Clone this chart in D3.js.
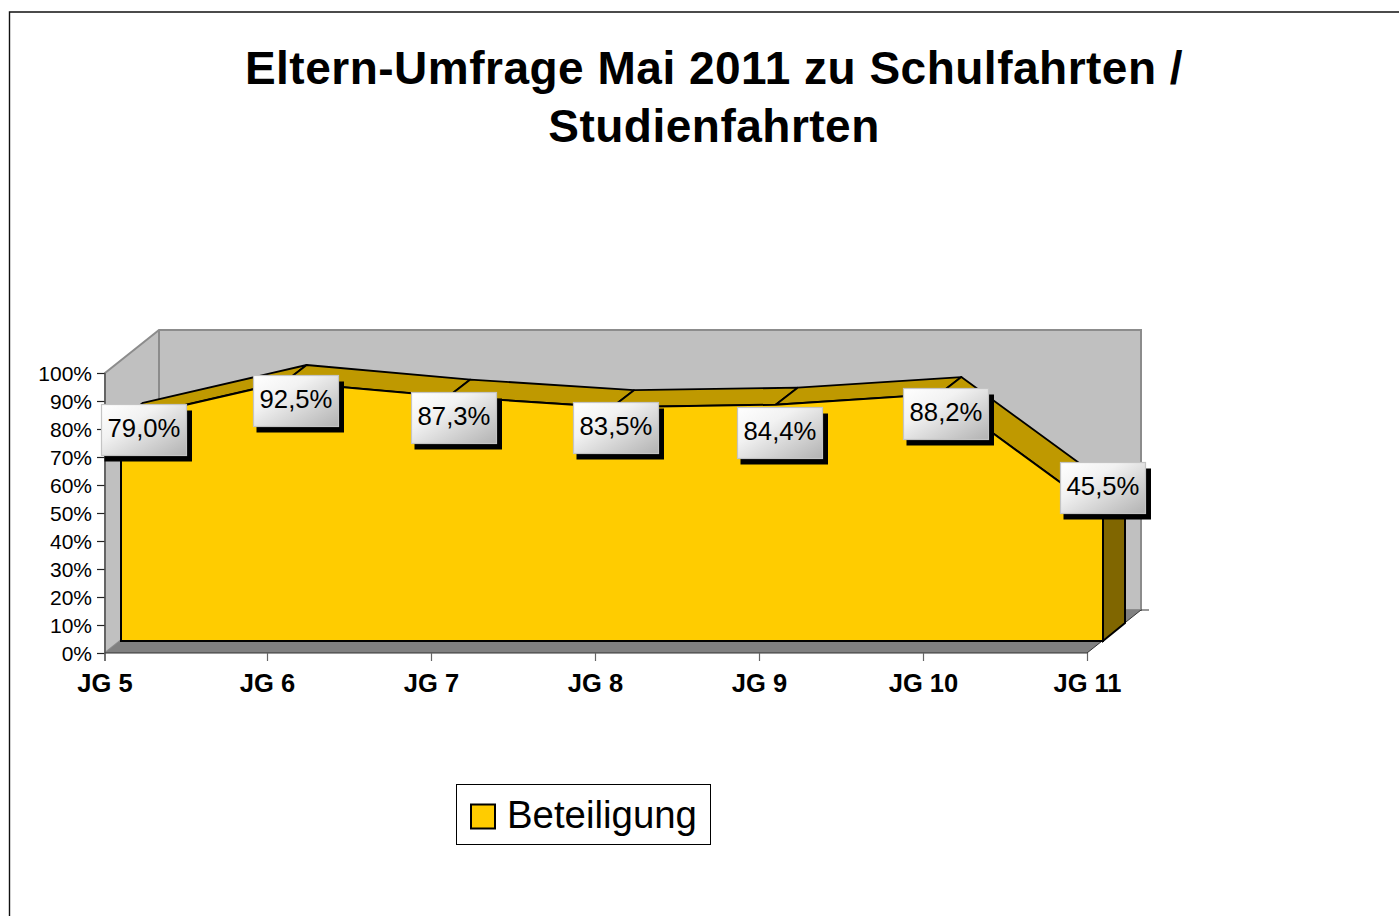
<!DOCTYPE html>
<html><head><meta charset="utf-8">
<script src="https://cdnjs.cloudflare.com/ajax/libs/d3/7.8.5/d3.min.js"></script>
<style>html,body{margin:0;padding:0;background:#fff;overflow:hidden}svg{display:block;font-family:"Liberation Sans",Arial,sans-serif}</style>
</head><body><svg id="c" width="1399" height="916"></svg>
<script>
const categories = ["JG 5","JG 6","JG 7","JG 8","JG 9","JG 10","JG 11"];
const values = [79.0,92.5,87.3,83.5,84.4,88.2,45.5];
const valueLabels = ["79,0%","92,5%","87,3%","83,5%","84,4%","88,2%","45,5%"];
const yTicks = [0,10,20,30,40,50,60,70,80,90,100];
const titleLines = ["Eltern-Umfrage Mai 2011 zu Schulfahrten /","Studienfahrten"];
const seriesName = "Beteiligung";

const svg = d3.select("#c");
const x = d3.scalePoint().domain(categories).range([105,1087]);
const xAxisScale = d3.scalePoint().domain(categories).range([103,1087]);
const y = d3.scaleLinear().domain([0,100]).range([653,373]);
const front = {dx:16,dy:-12}, back = {dx:38,dy:-29}, wall = {dx:54,dy:-43};

// label placement relative to each point
const labelDx = [0.5,-11.2,-16.8,-18.5,-18.2,-15.8,-22.5], labelDy = [1,10,12.4,12,19.3,11,-34.6];

const defs = svg.append("defs");
const g = defs.append("linearGradient").attr("id","lg").attr("x1",0).attr("y1",0).attr("x2",1).attr("y2",1);
g.append("stop").attr("offset","0%").attr("stop-color","#ffffff");
g.append("stop").attr("offset","35%").attr("stop-color","#f2f2f2");
g.append("stop").attr("offset","100%").attr("stop-color","#b2b2b2");

// outer frame
svg.append("path").attr("d","M9.5,916V12H1399").attr("fill","none").attr("stroke","#111").attr("stroke-width",1.4);

// title
svg.append("g").selectAll("text").data(titleLines).join("text")
  .attr("x",714).attr("y",(d,i)=>84+i*58).attr("text-anchor","middle")
  .attr("font-weight","bold").attr("font-size",46).attr("letter-spacing",0.5).attr("fill","#000").text(d=>d);

// walls and floor
const x0=x.range()[0], x1=x.range()[1], y0=y(0), y100=y(100);
const poly = pts => "M"+pts.map(p=>p.join(",")).join("L")+"Z";
svg.append("path").attr("d",poly([[x0,y100],[x0+wall.dx,y100+wall.dy],[x1+wall.dx,y100+wall.dy],[x1+wall.dx,y0+wall.dy],[x0+wall.dx,y0+wall.dy],[x0,y0]]))
  .attr("fill","#c0c0c0").attr("stroke","#8c8c8c").attr("stroke-width",2);
svg.append("path").attr("d",poly([[x0+wall.dx,y100+wall.dy],[x0+wall.dx,y0+wall.dy]])).attr("stroke","#8c8c8c").attr("stroke-width",2).attr("fill","none");
svg.append("path").attr("d",poly([[x0,y0],[x1,y0],[x1+wall.dx,y0+wall.dy],[x0+wall.dx,y0+wall.dy]])).attr("fill","#808080");

// axes
const axL = d3.axisLeft(y).tickValues(yTicks).tickSize(8).tickFormat(d=>d+"%");
const gy = svg.append("g").attr("transform",`translate(${x0},0)`).call(axL);
gy.select(".domain").remove();
gy.selectAll("line").attr("stroke","#222").attr("stroke-width",1.2);
gy.selectAll("text").attr("font-size",21).attr("font-family","Liberation Sans").attr("fill","#000").attr("x",-13).attr("y",0.4).attr("dy","0.33em");
svg.append("line").attr("x1",x0).attr("x2",x0).attr("y1",y100).attr("y2",y0+8).attr("stroke","#555").attr("stroke-width",1.4);
const axB = d3.axisBottom(xAxisScale).tickSize(8).tickPadding(13);
const gx = svg.append("g").attr("transform",`translate(0,${y0})`).call(axB);
gx.select(".domain").attr("stroke","#333").attr("stroke-width",1).attr("d",`M${x0},0H${x1}`);
gx.selectAll("line").attr("stroke","#666").attr("stroke-width",1.2);
gx.selectAll("text").attr("font-size",25.5).attr("font-weight","bold").attr("font-family","Liberation Sans").attr("fill","#000");
gx.selectAll(".tick").filter((d,i)=>i===0).attr("transform",`translate(${x0},0)`);
svg.append("line").attr("x1",x1).attr("y1",y0).attr("x2",x1+wall.dx).attr("y2",y0+wall.dy).attr("stroke","#333").attr("stroke-width",1);
svg.append("line").attr("x1",x1+wall.dx).attr("y1",y0+wall.dy).attr("x2",x1+wall.dx+8).attr("y2",y0+wall.dy).attr("stroke","#333").attr("stroke-width",1);

// 3D area: top faces
const px = (c,o)=>x(c)+o.dx, py=(v,o)=>y(v)+o.dy;
const pairs = d3.pairs(categories.map((c,i)=>({c,v:values[i]})));
svg.append("g").selectAll("path").data(pairs).join("path")
  .attr("d",([a,b])=>poly([[px(a.c,front),py(a.v,front)],[px(b.c,front),py(b.v,front)],[px(b.c,back),py(b.v,back)],[px(a.c,back),py(a.v,back)]]))
  .attr("fill","#bf9900").attr("stroke","#000").attr("stroke-width",1.8).attr("stroke-linejoin","round");

// right side face
const last = categories.length-1;
svg.append("path").attr("d",poly([
  [px(categories[last],front),py(values[last],front)],[px(categories[last],back),py(values[last],back)],
  [px(categories[last],back),y(0)-30],[px(categories[last],front),py(0,front)]]))
  .attr("fill","#806600").attr("stroke","#000").attr("stroke-width",2);

// front face
const area = d3.area().x(d=>px(d.c,front)).y0(py(0,front)).y1(d=>py(d.v,front));
svg.append("path").datum(categories.map((c,i)=>({c,v:values[i]})))
  .attr("d",d=>area(d)).attr("fill","#ffcc00").attr("stroke","#000").attr("stroke-width",2);

// data labels
const W=85,H=51;
const lab = svg.append("g").selectAll("g").data(values).join("g")
  .attr("transform",(v,i)=>`translate(${Math.round(x(categories[i])+back.dx+labelDx[i]-W/2)+0.5},${Math.round(y(v)+back.dy+labelDy[i])+0.5})`);
lab.append("rect").attr("x",3).attr("y",6).attr("width",W+2.5).attr("height",H).attr("fill","#000");
lab.append("rect").attr("width",W).attr("height",H).attr("fill","url(#lg)").attr("stroke","#c4c4c4").attr("stroke-width",1.2);
lab.append("text").attr("x",W/2).attr("y",H/2+6.5).attr("text-anchor","middle").attr("font-size",25.7).attr("fill","#000").text((v,i)=>valueLabels[i]);

// legend
const leg = svg.append("g");
leg.append("rect").attr("x",456.5).attr("y",784.5).attr("width",254).attr("height",60).attr("fill","#fff").attr("stroke","#000").attr("stroke-width",1);
leg.append("rect").attr("x",471).attr("y",804.5).attr("width",24).attr("height",24).attr("fill","#ffcc00").attr("stroke","#000").attr("stroke-width",2);
leg.append("text").attr("x",507).attr("y",828).attr("font-size",38.4).attr("fill","#000").text(seriesName);
</script></body></html>
